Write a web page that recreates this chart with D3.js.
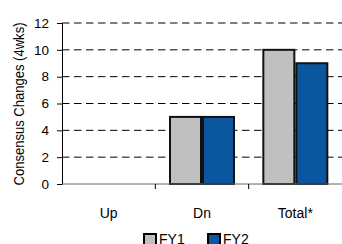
<!DOCTYPE html>
<html><head><meta charset="utf-8">
<script src="https://cdn.jsdelivr.net/npm/d3@7"></script>
<style>
html,body{margin:0;padding:0;background:#fff;overflow:hidden}
text{font-family:"Liberation Sans",Arial,sans-serif;}
</style></head><body>
<svg id="c" width="342" height="244"></svg>
<script>
const categories = ["Up","Dn","Total*"];
const seriesNames = ["FY1","FY2"];
const fy1 = [0,5,10];
const fy2 = [0,5,9];
const yTicks = [0,2,4,6,8,10,12];
const colors = ["#c0c0c0","#0a57a0"];
const FONT = '"Liberation Sans",Arial,sans-serif';

const svg = d3.select("#c");
const m = {l:62, t:23};
const W = 342;
const x = d3.scaleBand().domain(categories).range([m.l, W]).paddingInner(0);
const y = d3.scaleLinear().domain([0,12]).range([184, 23]);

// gridlines
svg.append("g").selectAll("line").data(yTicks.filter(d=>d>0)).join("line")
  .attr("x1", m.l).attr("x2", W)
  .attr("y1", d=>y(d)).attr("y2", d=>y(d))
  .attr("stroke","#000").attr("stroke-width",1).attr("stroke-dasharray","7.5,4.5");

// bars
const x1 = d3.scaleBand().domain(seriesNames).range([0, 64]).paddingInner(0.06);
const data = categories.map((c,i)=>({c, vals:[fy1[i],fy2[i]]}));
const g = svg.append("g");
data.forEach(d=>{
  d.vals.forEach((v,j)=>{
    if (v<=0) return;
    const bx = x(d.c) + (x.bandwidth()-64)/2 + x1(seriesNames[j]);
    g.append("rect").attr("x", bx).attr("y", y(v)).attr("width", x1.bandwidth())
      .attr("height", y(0)-y(v)).attr("fill", colors[j]).attr("stroke","#111").attr("stroke-width",2);
  });
});

// y axis
const ya = svg.append("g").attr("transform",`translate(${m.l},0)`)
  .call(d3.axisLeft(y).tickValues(yTicks).tickSize(5).tickPadding(8));
ya.select(".domain").attr("stroke","#000");
ya.selectAll(".tick line").attr("stroke","#000");
ya.selectAll("text").attr("font-size",13.5).attr("fill","#000").style("font-family",FONT);

// x axis
const xa = svg.append("g").attr("transform",`translate(0,${y(0)})`)
  .call(d3.axisBottom(x).tickSize(0).tickPadding(24));
xa.select(".domain").attr("stroke","#666").attr("d",`M${m.l},0H${W}`);
xa.selectAll("text").attr("font-size",14).attr("fill","#000").style("font-family",FONT);
// band boundary ticks
svg.append("g").selectAll("line").data(categories.slice(1)).join("line")
  .attr("x1",d=>x(d)).attr("x2",d=>x(d)).attr("y1",y(0)).attr("y2",y(0)+5)
  .attr("stroke","#000");

// y title
svg.append("text").attr("transform",`translate(24,104) rotate(-90)`)
  .attr("text-anchor","middle").attr("font-size",14).attr("textLength",163)
  .attr("lengthAdjust","spacingAndGlyphs").text("Consensus Changes (4wks)");

// legend
const lg = svg.append("g");
const lx = [143, 207];
seriesNames.forEach((s,i)=>{
  lg.append("rect").attr("x",lx[i]+1).attr("y",234).attr("width",12).attr("height",12)
    .attr("fill",colors[i]).attr("stroke","#000").attr("stroke-width",2);
  lg.append("text").attr("x",lx[i]+16).attr("y",243.5).attr("font-size",14).text(s);
});
</script></body></html>
